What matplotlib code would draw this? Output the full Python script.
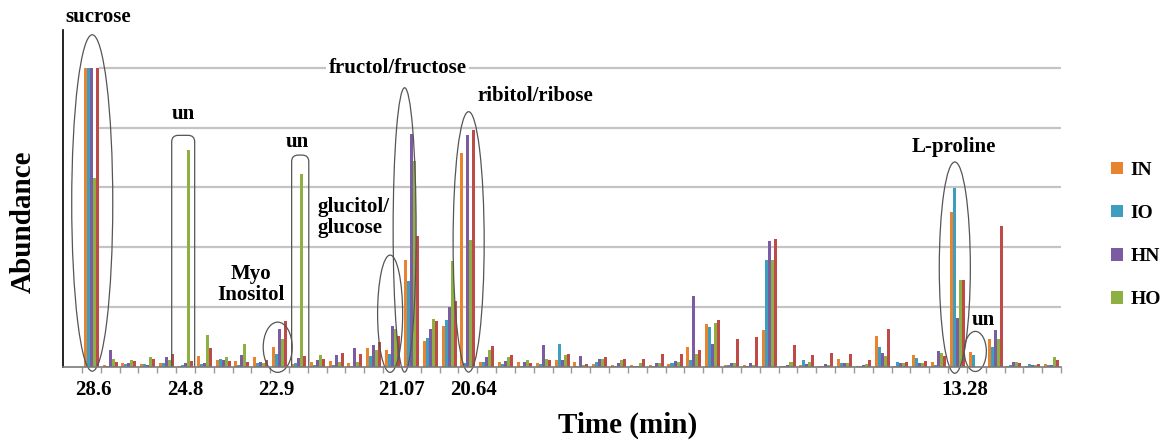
import matplotlib
matplotlib.use("Agg")
import matplotlib.pyplot as plt
from matplotlib.patches import Ellipse, FancyBboxPatch
import numpy as np

# relative abundance per retention-time peak (one gridline = 1 unit)
in_vals = [5.0, 0.03, 0.06, 0.05, 0.07, 0.02, 0.18, 0.12, 0.10, 0.16,
           0.33, 0.05, 0.08, 0.10, 0.06, 0.32, 0.29, 1.78, 0.43, 0.68,
           3.58, 0.08, 0.08, 0.08, 0.06, 0.11, 0.08, 0.05, 0.04, 0.04,
           0.03, 0.05, 0.33, 0.71, 0.03, 0.03, 0.62, 0.01, 0.03, 0.02,
           0.14, 0.01, 0.52, 0.02, 0.20, 0.08, 2.59, 0.25, 0.47, 0.02,
           0.02, 0.05]
io_vals = [5.0, 0.02, 0.05, 0.05, 0.07, 0.03, 0.05, 0.14, 0.03, 0.07,
           0.21, 0.06, 0.03, 0.03, 0.02, 0.18, 0.21, 1.44, 0.49, 0.79,
           0.07, 0.09, 0.05, 0.02, 0.05, 0.39, 0.02, 0.08, 0.02, 0.02,
           0.01, 0.07, 0.11, 0.67, 0.03, 0.01, 1.79, 0.02, 0.12, 0.02,
           0.07, 0.01, 0.34, 0.08, 0.15, 0.03, 2.99, 0.20, 0.33, 0.03,
           0.05, 0.03]
hn_vals = [5.0, 0.28, 0.07, 0.03, 0.17, 0.06, 0.06, 0.12, 0.20, 0.08,
           0.64, 0.15, 0.11, 0.20, 0.31, 0.36, 0.68, 3.90, 0.64, 1.00,
           3.87, 0.16, 0.10, 0.09, 0.36, 0.12, 0.18, 0.14, 0.07, 0.01,
           0.07, 0.10, 1.18, 0.38, 0.06, 0.06, 2.11, 0.03, 0.05, 0.05,
           0.06, 0.03, 0.24, 0.07, 0.06, 0.26, 0.82, 0.0, 0.61, 0.08,
           0.03, 0.03]
ho_vals = [3.15, 0.14, 0.12, 0.17, 0.12, 3.62, 0.54, 0.17, 0.39, 0.06,
           0.46, 3.23, 0.20, 0.09, 0.08, 0.28, 0.64, 3.44, 0.81, 1.77,
           2.12, 0.28, 0.16, 0.12, 0.14, 0.20, 0.04, 0.13, 0.11, 0.07,
           0.07, 0.08, 0.21, 0.74, 0.06, 0.04, 1.78, 0.09, 0.09, 0.03,
           0.07, 0.05, 0.18, 0.07, 0.06, 0.24, 1.46, 0.0, 0.47, 0.08,
           0.03, 0.16]
fifth_vals = [5.0, 0.08, 0.10, 0.14, 0.21, 0.10, 0.32, 0.10, 0.08, 0.12,
              0.77, 0.18, 0.14, 0.24, 0.21, 0.42, 0.51, 2.19, 0.77, 1.10,
              3.96, 0.35, 0.20, 0.06, 0.11, 0.22, 0.05, 0.17, 0.14, 0.14,
              0.21, 0.21, 0.28, 0.79, 0.46, 0.50, 2.14, 0.36, 0.20, 0.24,
              0.22, 0.11, 0.63, 0.09, 0.10, 0.18, 1.46, 0.0, 2.36, 0.07,
              0.05, 0.11]

tick_pos = [0.1, 5.0, 9.8, 16.5, 20.3, 46.4]
tick_labels = ["28.6", "24.8", "22.9", "21.07", "20.64", "13.28"]

series = [
    ("IN", in_vals, "#E8832F"),
    ("IO", io_vals, "#3E9EC0"),
    ("HN", hn_vals, "#7B5CA3"),
    ("HO", ho_vals, "#8DB043"),
    ("_red", fifth_vals, "#BE4B48"),
]

serif = ["Liberation Serif", "DejaVu Serif"]

fig = plt.figure(figsize=(11.72, 4.41), dpi=100)
ax = fig.add_axes([0.0538, 0.1678, 0.8515, 0.7642])

x = np.arange(len(in_vals))
w = 0.16
for i, (name, vals, col) in enumerate(series):
    ax.bar(x + (i - 2) * w, vals, width=w, color=col, label=name, zorder=2)

ax.set_xlim(-1.5, 51.5)
ax.set_ylim(0, 5.63)
ax.hlines([1, 2, 3, 4, 5], 0.4, 51.5, color="#c4c4c4", lw=1.6, zorder=0.5)

for s in ["top", "right"]:
    ax.spines[s].set_visible(False)
ax.spines["left"].set_color("black")
ax.spines["left"].set_linewidth(1.2)
ax.spines["bottom"].set_color("#7a7a7a")
ax.spines["bottom"].set_linewidth(1.2)
ax.spines["bottom"].set_zorder(4)
ax.set_yticks([])

ax.set_xticks(tick_pos)
ax.set_xticklabels(tick_labels, fontfamily=serif, fontweight="bold", fontsize=15)
ax.tick_params(axis="x", which="major", length=0, pad=9)
ax.set_xticks(np.arange(-0.5, 51.6, 1), minor=True)
ax.tick_params(axis="x", which="minor", length=4, color="#9a9a9a", width=1)

ax.set_ylabel("Abundance", fontfamily=serif, fontweight="bold", fontsize=21)
ax.yaxis.set_label_coords(-0.026, 0.43)
ax.text(0.566, -0.172, "Time (min)", transform=ax.transAxes, ha="center", va="center",
        fontfamily=serif, fontweight="bold", fontsize=21)

# circled peaks
ellipses = [(0.05, 2.74, 2.18, 5.62), (9.90, 0.33, 1.54, 0.84), (15.87, 0.89, 1.33, 1.96),
            (16.64, 2.29, 1.22, 4.75), (20.04, 2.09, 1.65, 4.35), (45.86, 1.66, 1.65, 3.53),
            (46.95, 0.26, 1.17, 0.67)]
for cx, cy, ew, eh in ellipses:
    ax.add_patch(Ellipse((cx, cy), ew, eh, fill=False, edgecolor="#555555", lw=0.9,
                         zorder=3, clip_on=False))

for x0, x1, top in [(4.27, 5.49, 3.87), (10.64, 11.55, 3.54)]:
    ax.add_patch(FancyBboxPatch((x0, -0.3), x1 - x0, top + 0.3,
                                boxstyle="round,pad=0,rounding_size=0.35",
                                mutation_aspect=0.315, fill=False,
                                edgecolor="#555555", lw=0.9, zorder=3))

labels = [
    ("sucrose", 0.34, 5.85, "center"),
    ("un", 4.88, 4.23, "center"),
    ("un", 10.96, 3.76, "center"),
    ("Myo\nInositol", 8.47, 1.38, "center"),
    ("ribitol/ribose", 23.59, 4.53, "center"),
    ("L-proline", 45.83, 3.67, "center"),
]
for txt, tx, ty, al in labels:
    ax.text(tx, ty, txt, ha="center", va="center", multialignment=al,
            fontfamily=serif, fontweight="bold", fontsize=15, zorder=5, clip_on=False,
            linespacing=1.05)
ax.text(12.02, 2.50, "glucitol/\nglucose", ha="left", va="center", multialignment="left",
        fontfamily=serif, fontweight="bold", fontsize=15, zorder=5, linespacing=1.05)
ax.text(16.27, 4.99, "fructol/fructose", ha="center", va="center",
        fontfamily=serif, fontweight="bold", fontsize=15, zorder=5,
        bbox=dict(facecolor="white", edgecolor="none", pad=2))
ax.text(47.37, 0.79, "un", ha="center", va="center",
        fontfamily=serif, fontweight="bold", fontsize=15, zorder=5)

handles, names = ax.get_legend_handles_labels()
fig.legend(handles[:4], names[:4], loc="center left", bbox_to_anchor=(0.948, 0.467),
           frameon=False, prop={"family": serif, "weight": "bold", "size": 14},
           handlelength=0.6, handleheight=0.6, handletextpad=0.4, labelspacing=1.35,
           borderpad=0, borderaxespad=0)

fig.savefig("out.png", dpi=100)
